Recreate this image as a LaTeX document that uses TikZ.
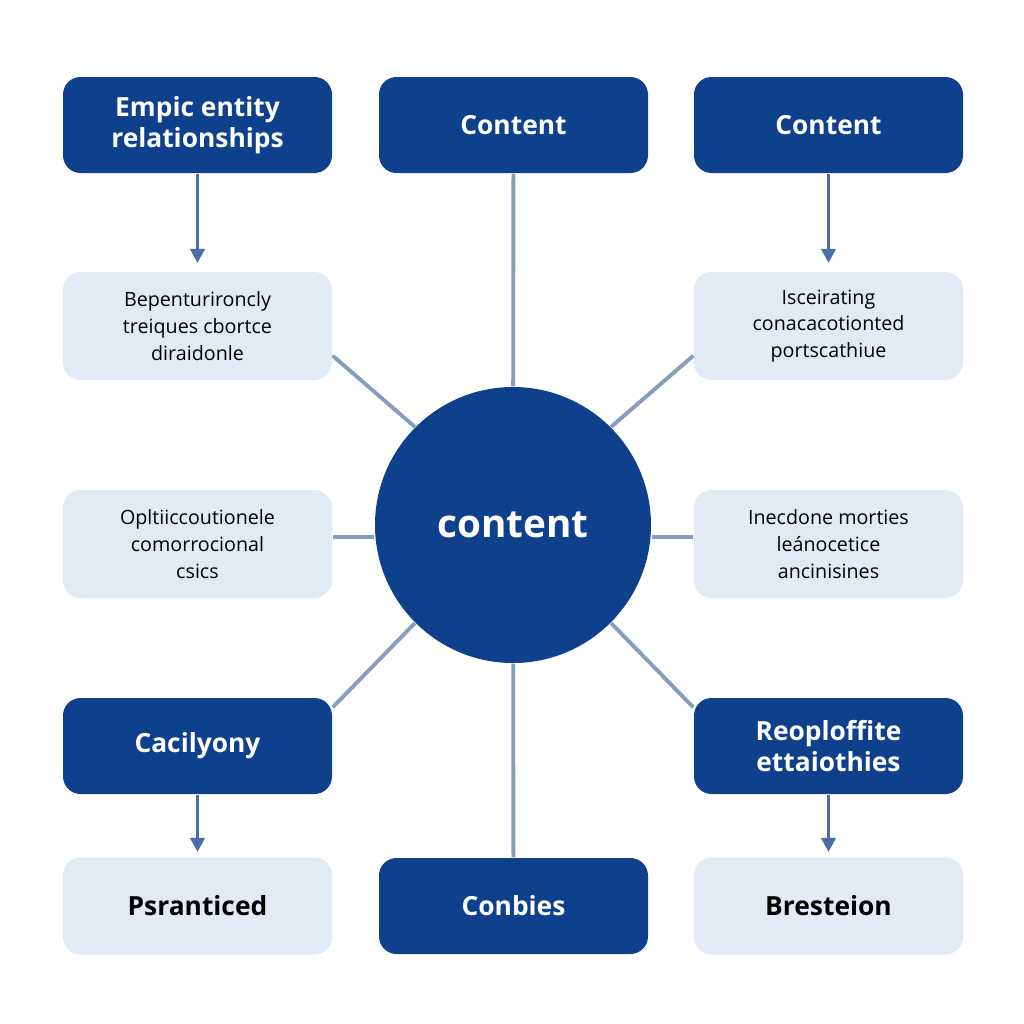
\documentclass[tikz,border=0pt]{standalone}
\usepackage{fontspec}
\setmainfont{Open Sans}
\usetikzlibrary{arrows.meta}
\definecolor{darkblue}{HTML}{0F408C}
\definecolor{paleblue}{HTML}{E2EBF5}
\definecolor{linkgray}{HTML}{849EBD}
\definecolor{arrowblue}{HTML}{4A6EA6}
\tikzset{
  dark/.style={rounded corners=5pt, fill=darkblue, text=white, minimum width=2.69cm, minimum height=0.96cm, align=center, font=\fontsize{7.5}{9}\selectfont\bfseries},
  pale/.style={rounded corners=5pt, fill=paleblue, text=black, minimum width=2.69cm, minimum height=1.08cm, align=center, font=\fontsize{5.6}{7.6}\selectfont},
  paleb/.style={pale, minimum height=0.97cm, font=\fontsize{7.5}{9}\selectfont\bfseries},
  link/.style={linkgray, line width=1.1pt},
  down/.style={arrowblue, line width=1.1pt, -{Triangle[width=4pt,length=4pt]}}
}
\begin{document}
\begin{tikzpicture}[x=1cm,y=-1cm]
    \useasboundingbox[fill=white] (0,0) rectangle (10.24,10.24);
    % centre
    \node[circle, fill=darkblue, text=white, minimum size=2.76cm, font=\fontsize{11}{13}\selectfont\bfseries] (hub) at (5.13,5.25) {content};

    % top row
    \node[dark] (tl) at (1.975,1.25) {Empic entity\\relationships};
    \node[dark] (tc) at (5.135,1.25) {Content};
    \node[dark] (tr) at (8.285,1.25) {Content};

    % second row
    \node[pale] (ml) at (1.975,3.26) {Bepenturironcly\\treiques cbortce\\diraidonle};
    \node[pale] (mr) at (8.285,3.26) {Isceirating\\conacacotionted\\portscathiue};

    % third row
    \node[pale] (cl) at (1.975,5.44) {Opltiiccoutionele\\comorrocional\\csics};
    \node[pale] (cr) at (8.285,5.44) {Inecdone morties\\leánocetice\\ancinisines};

    % fourth row
    \node[dark] (bl) at (1.975,7.46) {Cacilyony};
    \node[dark] (br) at (8.285,7.46) {Reoploffite\\ettaiothies};

    % bottom row
    \node[paleb] (ll) at (1.975,9.06) {Psranticed};
    \node[dark] (lc) at (5.135,9.06) {Conbies};
    \node[paleb] (lr) at (8.285,9.06) {Bresteion};

    % links to the hub
    \draw[link] (tc) -- (hub);
    \draw[link] (lc) -- (hub);
    \coordinate (h1) at ([yshift=0.07cm]cl.east);
    \coordinate (h2) at ([yshift=0.07cm]cr.west);
    \draw[link] (h1) -- (h1 -| hub.west);
    \draw[link] (h2) -- (h2 -| hub.east);
    \draw[link] (ml.south east) ++(0,-0.25) coordinate (a1) (a1) -- (hub.135);
    \draw[link] (mr.south west) ++(0,-0.25) coordinate (a2) (a2) -- (hub.45);
    \draw[link] (bl.north east) ++(0,0.1) coordinate (a3) (a3) -- (hub.225);
    \draw[link] (br.north west) ++(0,0.1) coordinate (a4) (a4) -- (hub.315);

    % arrows
    \draw[down] (tl) -- ++(0,1.38) coordinate (e1);
    \draw[down] (tr) -- ++(0,1.38) coordinate (e2);
    \draw[down] (bl) -- ++(0,1.06) coordinate (e3);
    \draw[down] (br) -- ++(0,1.06) coordinate (e4);
\end{tikzpicture}
\end{document}
